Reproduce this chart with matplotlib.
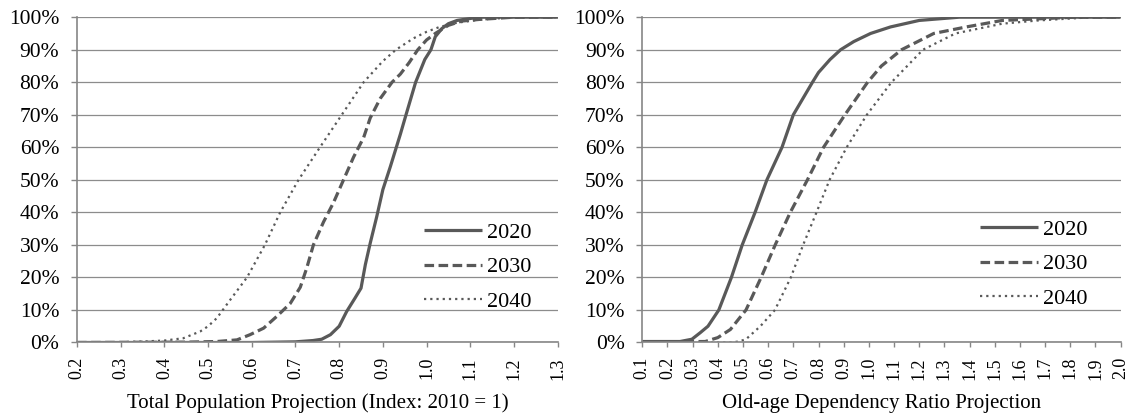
import numpy as np
import matplotlib
matplotlib.use('Agg')
import matplotlib.pyplot as plt
from matplotlib.ticker import PercentFormatter, MultipleLocator

plt.rcParams['font.family'] = ['Liberation Serif', 'DejaVu Serif']

# ---- data (x, cumulative share in %) ----
years = ['2020', '2030', '2040']

# left panel: total population index (2010 = 1)
pop_x_2020 = [0.20, 0.60, 0.70, 0.74, 0.76, 0.78, 0.80, 0.817, 0.836, 0.85, 0.86, 0.871,
              0.886, 0.90, 0.917, 0.94, 0.953, 0.975, 0.996, 1.01, 1.02, 1.035, 1.05,
              1.07, 1.12, 1.30]
pop_y_2020 = [0, 0, 0.2, 0.6, 1.0, 2.4, 5.0, 9.5, 13.6, 16.7, 24, 30.5,
              38.7, 47, 54, 64, 70, 80, 87, 90, 94, 96.5, 98,
              99, 100, 100]

pop_x_2030 = [0.20, 0.45, 0.52, 0.566, 0.596, 0.627, 0.657, 0.688, 0.711, 0.726, 0.741,
              0.764, 0.787, 0.81, 0.833, 0.856, 0.871, 0.894, 0.921, 0.94, 0.96, 0.98,
              1.00, 1.02, 1.05, 1.08, 1.12, 1.20, 1.30]
pop_y_2030 = [0, 0.1, 0.3, 0.8, 2.4, 4.4, 8, 12, 17, 23, 30,
              37, 43, 50, 57, 63, 69, 75, 80, 82.5, 86, 90,
              93, 95, 97.5, 98.8, 99.3, 100, 100]

pop_x_2040 = [0.20, 0.30, 0.35, 0.40, 0.443, 0.482, 0.50, 0.52, 0.55, 0.589, 0.63, 0.665,
              0.707, 0.756, 0.806, 0.856, 0.90, 0.93, 0.97, 1.00, 1.03, 1.07, 1.12,
              1.20, 1.30]
pop_y_2040 = [0, 0.1, 0.3, 0.6, 1.3, 3.4, 5, 7.5, 13, 20, 30, 40,
              50, 60, 70, 80, 86.5, 90, 93.5, 95.5, 97, 98.3, 99.2,
              100, 100]

# right panel: old-age dependency ratio
oad_x_2020 = [0.10, 0.25, 0.297, 0.33, 0.361, 0.404, 0.454, 0.497, 0.548, 0.595, 0.655,
              0.70, 0.776, 0.80, 0.846, 0.888, 0.94, 1.007, 1.086, 1.20, 1.36, 2.00]
oad_y_2020 = [0.3, 0.3, 1, 3, 5, 10, 20, 30, 40, 50, 60,
              70, 80, 83, 87, 90, 92.5, 95, 97, 99, 100, 100]

oad_x_2030 = [0.10, 0.35, 0.40, 0.45, 0.488, 0.512, 0.572, 0.628, 0.688, 0.756, 0.82,
              0.905, 0.995, 1.05, 1.13, 1.258, 1.387, 1.53, 1.82, 2.00]
oad_y_2030 = [0.2, 0.3, 1.5, 4, 7.7, 10, 20, 30, 40, 50, 60,
              70, 80, 85, 90, 95, 97, 99, 100, 100]

oad_x_2040 = [0.10, 0.45, 0.483, 0.512, 0.569, 0.627, 0.69, 0.739, 0.792, 0.844, 0.912,
              0.992, 1.09, 1.215, 1.344, 1.53, 1.674, 1.89, 2.00]
oad_y_2040 = [0, 0, 0.3, 1, 5, 10, 20, 30, 40, 50, 60,
              70, 80, 90, 95, 98, 99, 100, 100]

# ---- style ----
LINE_COLOR = '#595959'
GRID_COLOR = '#8C8C8C'
SPINE_COLOR = '#868686'
TEXT_COLOR = '#000000'

STYLES = {
    '2020': dict(linestyle='-', linewidth=2.3),
    '2030': dict(linestyle=(0, (3.0, 1.4)), linewidth=2.3),
    '2040': dict(linestyle=(0, (1.0, 1.8)), linewidth=1.6),
}

fig = plt.figure(figsize=(11.38, 4.19), dpi=100)
ax1 = fig.add_axes([0.0677, 0.1826, 0.4223, 0.7764])
ax2 = fig.add_axes([0.5644, 0.1826, 0.4203, 0.7764])


def draw_panel(ax, series, xmin, xmax, xlabel, legend_anchor):
    for year, (xs, ys) in zip(years, series):
        ax.plot(xs, np.array(ys) / 100.0, color=LINE_COLOR, label=year,
                solid_capstyle='butt', dash_capstyle='butt', **STYLES[year])

    ax.set_xlim(xmin, xmax)
    ax.set_ylim(0, 1.0)
    ax.xaxis.set_major_locator(MultipleLocator(0.1))
    ax.yaxis.set_major_locator(MultipleLocator(0.1))
    ax.yaxis.set_major_formatter(PercentFormatter(1.0, decimals=0))
    ax.xaxis.set_major_formatter(plt.FuncFormatter(lambda v, p: f'{v:.1f}'))

    ax.grid(axis='y', color=GRID_COLOR, linewidth=0.9)
    ax.set_axisbelow(True)
    for side in ['top', 'right']:
        ax.spines[side].set_visible(False)
    for side in ['left', 'bottom']:
        ax.spines[side].set_color(SPINE_COLOR)
        ax.spines[side].set_linewidth(1.2)

    ax.tick_params(axis='y', direction='out', length=4.3, width=1.0,
                   color=SPINE_COLOR, labelsize=15.5, pad=8.5, labelcolor=TEXT_COLOR)
    ax.tick_params(axis='x', direction='out', length=3.5, width=1.0,
                   color=SPINE_COLOR, labelsize=13, pad=7, labelrotation=90,
                   labelcolor=TEXT_COLOR)

    ax.set_xlabel(xlabel, fontsize=15, color=TEXT_COLOR, labelpad=10)

    ax.legend(loc='center right', bbox_to_anchor=legend_anchor, frameon=False,
              fontsize=16, handlelength=2.6, handletextpad=0.2,
              labelspacing=0.64, borderpad=0, borderaxespad=0)


draw_panel(ax1,
           [(pop_x_2020, pop_y_2020), (pop_x_2030, pop_y_2030), (pop_x_2040, pop_y_2040)],
           0.2, 1.3, 'Total Population Projection (Index: 2010 = 1)', (0.945, 0.232))
draw_panel(ax2,
           [(oad_x_2020, oad_y_2020), (oad_x_2030, oad_y_2030), (oad_x_2040, oad_y_2040)],
           0.1, 2.0, 'Old-age Dependency Ratio Projection', (0.93, 0.241))

fig.savefig('out.png', dpi=100)
